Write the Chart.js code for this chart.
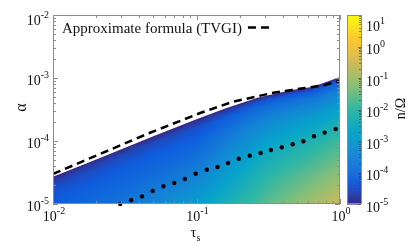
<!DOCTYPE html>
<html>
<head>
<meta charset="utf-8">
<script src="https://cdn.jsdelivr.net/npm/chart.js@4/dist/chart.umd.min.js"></script>
<style>
  html, body { margin: 0; padding: 0; background: #fff; }
</style>
</head>
<body>
<canvas id="myChart" width="415" height="246"></canvas>
<script>

// axes (log) : x = tau_s, y = alpha, colour = n/Omega
const xTicks = [0.01, 0.1, 1];
const xTickExp = ['-2', '-1', '0'];
const yTicks = [1e-5, 1e-4, 1e-3, 1e-2];
const yTickExp = ['-5', '-4', '-3', '-2'];
const cbTicks = [1e-5, 1e-4, 1e-3, 1e-2, 1e-1, 1, 10];
const cbTickExp = ['-5', '-4', '-3', '-2', '-1', '0', '1'];

// upper edge of the coloured region
const edgeTau   = [0.01, 0.02, 0.05, 0.1, 0.16, 0.27, 0.46, 0.64, 1.0];
const edgeAlpha = [2.7e-5, 5.1e-5, 1.19e-4, 2.21e-4, 3.31e-4, 4.91e-4, 6.43e-4, 7.19e-4, 1.04e-3];

// Approximate formula (TVGI), dashed
const approxTau   = [0.01, 0.047, 0.106, 0.177, 0.336, 0.463, 0.57, 0.785, 1.0];
const approxAlpha = [3.0e-5, 1.34e-4, 2.78e-4, 4.16e-4, 5.78e-4, 6.46e-4, 6.94e-4, 7.75e-4, 8.96e-4];

// dotted curve
const dotTau   = [0.0294, 0.035, 0.0417, 0.0495, 0.0588, 0.070, 0.083, 0.0986, 0.118, 0.140, 0.166,
                  0.197, 0.235, 0.280, 0.330, 0.393, 0.468, 0.555, 0.659, 0.782, 0.933];
const dotAlpha = [1.0e-5, 1.15e-5, 1.32e-5, 1.61e-5, 1.91e-5, 2.15e-5, 2.49e-5, 3.03e-5, 3.50e-5, 3.86e-5, 4.48e-5,
                  5.24e-5, 5.85e-5, 6.46e-5, 7.19e-5, 7.94e-5, 8.87e-5, 9.89e-5, 1.19e-4, 1.36e-4, 1.55e-4];

// log10(n/Omega), columns at heatTau, rows at fraction of the height between alpha=1e-5 and the edge
const heatTau  = [0.01, 0.0316, 0.1, 0.316, 1];
const heatFrac = [0, 0.25, 0.5, 0.75, 0.9, 0.96, 1];
const heatLogN = [
  [-4.25, -4.3,  -4.4,  -4.6,  -4.8,  -4.95, -5.1],
  [-3.75, -3.95, -4.15, -4.35, -4.6,  -4.85, -5.05],
  [-2.9,  -3.35, -3.75, -4.15, -4.45, -4.75, -5.05],
  [-1.6,  -2.05, -2.6,  -3.3,  -3.9,  -4.4,  -5.0],
  [-0.55, -1.2,  -1.85, -2.8,  -3.6,  -4.2,  -5.0]
];

const parula = ['#352a87', '#0f5cdd', '#1481d6', '#06a4ca', '#2eb7a4', '#87bf77', '#d1bb59', '#fec832', '#f9fb0e']
  .map(h => [parseInt(h.slice(1, 3), 16), parseInt(h.slice(3, 5), 16), parseInt(h.slice(5, 7), 16)]);

function cmap(t) {
  t = Math.max(0, Math.min(1, t));
  const p = t * (parula.length - 1);
  const i = Math.min(parula.length - 2, Math.floor(p));
  const f = p - i;
  const a = parula[i], b = parula[i + 1];
  return [a[0] + (b[0] - a[0]) * f, a[1] + (b[1] - a[1]) * f, a[2] + (b[2] - a[2]) * f];
}

function interp(xs, ys, x) {
  if (x <= xs[0]) return ys[0];
  for (let i = 1; i < xs.length; i++) {
    if (x <= xs[i]) {
      const f = (x - xs[i - 1]) / (xs[i] - xs[i - 1]);
      return ys[i - 1] + (ys[i] - ys[i - 1]) * f;
    }
  }
  return ys[ys.length - 1];
}

const lg = Math.log10;
const cbMin = lg(cbTicks[0]), cbMax = lg(cbTicks[cbTicks.length - 1]);
const FONT = '"Liberation Serif", "Times New Roman", serif';

const heatPlugin = {
  id: 'heat',
  beforeDatasetsDraw(chart) {
    const ctx = chart.ctx, a = chart.chartArea;
    const xs = chart.scales.x, ys = chart.scales.y;
    const w = Math.round(a.right - a.left), h = Math.round(a.bottom - a.top);
    const off = document.createElement('canvas');
    off.width = w; off.height = h;
    const octx = off.getContext('2d');
    const img = octx.createImageData(w, h);
    const eT = edgeTau.map(lg), eA = edgeAlpha.map(lg), hT = heatTau.map(lg);
    const yMin = lg(ys.min);
    for (let i = 0; i < w; i++) {
      const lt = lg(xs.getValueForPixel(a.left + i + 0.5));
      const edge = interp(eT, eA, lt);
      for (let j = 0; j < h; j++) {
        const la = lg(ys.getValueForPixel(a.top + j + 0.5));
        const s = Math.min(1, Math.max(0, (la - yMin) / (edge - yMin)));
        const colVals = heatLogN.map(c => interp(heatFrac, c, s));
        const v = interp(hT, colVals, lt);
        const c = cmap((v - cbMin) / (cbMax - cbMin));
        const k = (j * w + i) * 4;
        img.data[k] = c[0]; img.data[k + 1] = c[1]; img.data[k + 2] = c[2]; img.data[k + 3] = 255;
      }
    }
    octx.putImageData(img, 0, 0);
    ctx.save();
    ctx.beginPath();
    ctx.moveTo(a.left, a.bottom);
    edgeTau.forEach((t, i) => ctx.lineTo(xs.getPixelForValue(t), ys.getPixelForValue(edgeAlpha[i])));
    ctx.lineTo(a.right, a.bottom);
    ctx.closePath();
    ctx.clip();
    ctx.drawImage(off, a.left, a.top);
    ctx.restore();
  }
};

function drawPow(ctx, x, y, exp, align) {
  ctx.font = '14px ' + FONT;
  const wb = ctx.measureText('10').width;
  ctx.font = '10px ' + FONT;
  const we = ctx.measureText(exp).width;
  let x0 = x;
  if (align === 'right') x0 = x - wb - we;
  if (align === 'center') x0 = x - (wb + we) / 2;
  ctx.textAlign = 'left';
  ctx.textBaseline = 'alphabetic';
  ctx.font = '14px ' + FONT;
  ctx.fillText('10', x0, y);
  ctx.font = '10px ' + FONT;
  ctx.fillText(exp, x0 + wb, y - 7);
}

function logTicks(min, max) {
  const out = [];
  for (let e = Math.floor(lg(min)); e < Math.ceil(lg(max)) + 1; e++) {
    for (let k = 1; k <= 9; k++) {
      const v = k * Math.pow(10, e);
      if (v >= min * 0.999 && v <= max * 1.001) out.push({ v, major: k === 1 });
    }
  }
  return out;
}

const axesPlugin = {
  id: 'axesDeco',
  afterDraw(chart) {
    const ctx = chart.ctx, a = chart.chartArea;
    const xs = chart.scales.x, ys = chart.scales.y;
    ctx.save();
    ctx.strokeStyle = '#8c8c8c';
    ctx.lineWidth = 1;
    // ticks
    ctx.beginPath();
    logTicks(xs.min, xs.max).forEach(t => {
      const x = Math.round(xs.getPixelForValue(t.v)) + 0.5;
      const L = t.major ? 5 : 3;
      ctx.moveTo(x, a.bottom); ctx.lineTo(x, a.bottom - L);
      ctx.moveTo(x, a.top); ctx.lineTo(x, a.top + L);
    });
    logTicks(ys.min, ys.max).forEach(t => {
      const y = Math.round(ys.getPixelForValue(t.v)) + 0.5;
      const L = t.major ? 5 : 3;
      ctx.moveTo(a.left, y); ctx.lineTo(a.left + L, y);
      ctx.moveTo(a.right, y); ctx.lineTo(a.right - L, y);
    });
    ctx.stroke();
    // frame
    ctx.strokeRect(Math.round(a.left) + 0.5, Math.round(a.top) + 0.5,
                   Math.round(a.right - a.left) - 1, Math.round(a.bottom - a.top) - 1);

    // tick labels
    ctx.fillStyle = '#111';
    xTicks.forEach((v, i) => drawPow(ctx, xs.getPixelForValue(v) + 1, a.bottom + 17, xTickExp[i], 'center'));
    yTicks.forEach((v, i) => drawPow(ctx, a.left - 4, Math.max(ys.getPixelForValue(v) + 7, a.top + 10), yTickExp[i], 'right'));

    // axis titles
    ctx.font = '15px ' + FONT;
    ctx.textAlign = 'left';
    ctx.textBaseline = 'alphabetic';
    const tw = ctx.measureText('\u03c4').width;
    const cx = (a.left + a.right) / 2 - 3;
    ctx.fillText('\u03c4', cx - tw / 2, a.bottom + 33);
    ctx.font = '10px ' + FONT;
    ctx.fillText('s', cx + tw / 2, a.bottom + 37);

    ctx.save();
    ctx.translate(22, (a.top + a.bottom) / 2 - 2);
    ctx.rotate(-Math.PI / 2);
    ctx.font = '16px ' + FONT;
    ctx.textAlign = 'center';
    ctx.textBaseline = 'middle';
    ctx.fillText('\u03b1', 0, 0);
    ctx.restore();

    // colour bar
    const cbL = a.right + 7, cbW = 14;
    const cbY = v => a.bottom - (lg(v) - cbMin) / (cbMax - cbMin) * (a.bottom - a.top);
    const steps = 190;
    for (let k = 0; k < steps; k++) {
      const t0 = k / steps, t1 = (k + 1) / steps;
      const c = cmap((t0 + t1) / 2);
      ctx.fillStyle = 'rgb(' + c.map(Math.round).join(',') + ')';
      const y0 = a.bottom - t1 * (a.bottom - a.top);
      ctx.fillRect(cbL, y0, cbW, (a.bottom - a.top) / steps + 0.6);
    }
    ctx.beginPath();
    logTicks(cbTicks[0], cbTicks[cbTicks.length - 1]).forEach(t => {
      const y = Math.round(cbY(t.v)) + 0.5;
      const L = t.major ? 3 : 2;
      ctx.moveTo(cbL + cbW, y); ctx.lineTo(cbL + cbW - L, y);
    });
    ctx.strokeStyle = 'rgba(60,60,60,0.6)';
    ctx.stroke();
    ctx.strokeStyle = '#8c8c8c';
    ctx.strokeRect(cbL + 0.5, Math.round(a.top) + 0.5, cbW, Math.round(a.bottom - a.top) - 1);
    ctx.fillStyle = '#111';
    cbTicks.forEach((v, i) => drawPow(ctx, cbL + cbW + 5, Math.max(cbY(v) + 7.5, a.top + 16), cbTickExp[i], 'left'));

    ctx.save();
    ctx.translate(401, (a.top + a.bottom) / 2 - 1);
    ctx.rotate(-Math.PI / 2);
    ctx.font = '14px ' + FONT;
    ctx.textAlign = 'center';
    ctx.textBaseline = 'middle';
    ctx.fillText('n/\u03a9', 0, 0);
    ctx.restore();

    // legend
    const ds = chart.data.datasets[0];
    ctx.font = '15px ' + FONT;
    ctx.textAlign = 'left';
    ctx.textBaseline = 'alphabetic';
    ctx.fillText(ds.label, a.left + 9, a.top + 18);
    const lw = ctx.measureText(ds.label).width;
    ctx.beginPath();
    ctx.setLineDash(ds.borderDash);
    ctx.lineWidth = ds.borderWidth;
    ctx.strokeStyle = ds.borderColor;
    ctx.moveTo(a.left + 9 + lw + 6, a.top + 12.5);
    ctx.lineTo(a.left + 9 + lw + 28, a.top + 12.5);
    ctx.stroke();
    ctx.restore();
  }
};

const config = {
  type: 'line',
  data: {
    datasets: [
      {
        label: 'Approximate formula (TVGI)',
        data: approxTau.map((t, i) => ({ x: t, y: approxAlpha[i] })),
        borderColor: '#000',
        borderWidth: 2.5,
        borderDash: [8, 5],
        pointRadius: 0,
        fill: false
      },
      {
        label: 'dotted',
        data: dotTau.map((t, i) => ({ x: t, y: dotAlpha[i] })),
        showLine: false,
        pointRadius: 2.2,
        pointBorderWidth: 0,
        pointBackgroundColor: '#000',
        clip: false
      }
    ]
  },
  options: {
    responsive: false,
    animation: false,
    devicePixelRatio: 1,
    layout: { padding: { left: 53, top: 15, right: 75, bottom: 42 } },
    scales: {
      x: { type: 'logarithmic', min: 0.01, max: 1, display: false },
      y: { type: 'logarithmic', min: 1e-5, max: 1e-2, display: false }
    },
    plugins: {
      legend: { display: false },
      tooltip: { enabled: false }
    }
  },
  plugins: [heatPlugin, axesPlugin]
};

const myChart = new Chart(document.getElementById('myChart'), config);
</script>
</body>
</html>
